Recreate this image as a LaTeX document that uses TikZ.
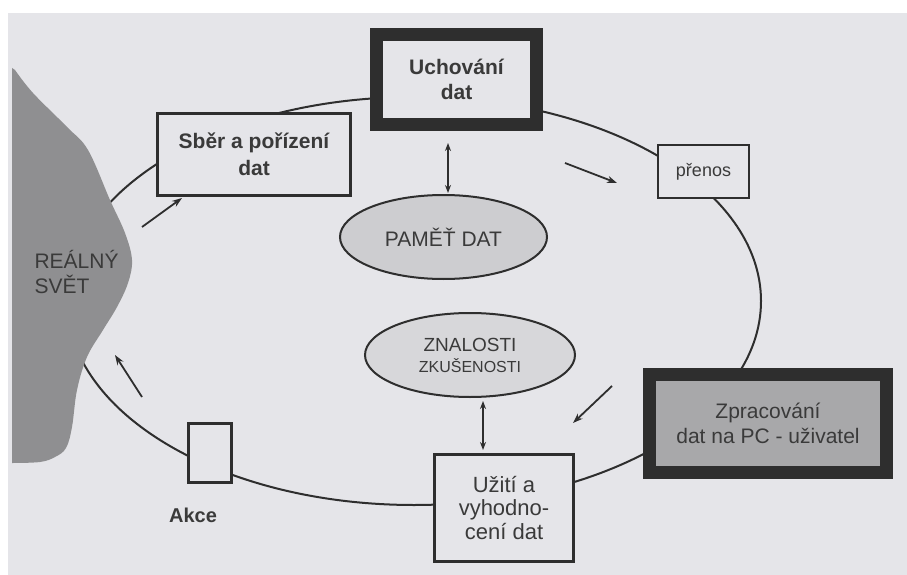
\documentclass[tikz,border=0pt]{standalone}
\usepackage{fontspec}
\setmainfont{Liberation Sans}
\usetikzlibrary{shapes.geometric,arrows.meta}

\definecolor{papir}{HTML}{E5E5E9}
\definecolor{linka}{HTML}{2E2E2E}
\definecolor{popis}{HTML}{3A3A3A}
\definecolor{svet}{HTML}{8F8F91}
\definecolor{sedaA}{HTML}{CDCDD0}
\definecolor{sedaB}{HTML}{D7D7DA}
\definecolor{tmava}{HTML}{A8A8AA}

\begin{document}
\begin{tikzpicture}[x=1pt, y=-1pt,
  box/.style={draw=linka, fill=papir, line width=3pt, inner sep=0pt, align=center, text=popis},
  tlusty/.style={box, line width=13pt},
  elip/.style={ellipse, draw=linka, line width=2pt, inner sep=0pt, align=center, text=popis},
  sip/.style={draw=linka, line width=1.8pt, -{Stealth[length=10pt,width=7pt]}},
  dvoj/.style={draw=linka, line width=1.5pt, {Stealth[length=8pt,width=6pt]}-{Stealth[length=8pt,width=6pt]}}]

  % 0. podklad (naskenovana stranka)
  \fill[white] (0,0) rectangle (907,575);
  \fill[papir] (8,13) rectangle (907,575);
  \useasboundingbox (0,0) rectangle (907,575);

  % 1. velky cyklus: stred (414,301), poloosy 347 a 204
  \draw[linka, line width=2pt] (414,301) ellipse [x radius=347pt, y radius=204pt];

  % 2. realny svet (sedy utvar vlevo)
  \fill[svet] (12,68) -- plot[smooth, tension=0.6] coordinates {(15,70) (33,93) (67,127) (88,150) (110,200) (125,233) (132,260) (128,283) (117,307) (103,330) (87,357) (77,390) (72,427) (66,448) (55,457) (40,462) (12,463)} -- cycle;
  \node[anchor=west, align=left, text=popis, font=\fontsize{21}{25}\selectfont] (svettxt) at (31,272) {REÁLNÝ\\SVĚT};

  % 3. bloky na cyklu
  \node[box, minimum width=193pt, minimum height=82pt, font=\bfseries\fontsize{21}{27}\selectfont] (sber) at (254,154.5) {Sběr a pořízení\\dat};
  \node[tlusty, minimum width=160pt, minimum height=90pt, font=\bfseries\fontsize{21}{25}\selectfont] (uch) at (456.5,79.5) {Uchování\\dat};
  \node[box, line width=2.5pt, minimum width=91pt, minimum height=53pt, font=\fontsize{18}{22}\selectfont] (prenos) at (703.5,171.5) {přenos};
  \node[tlusty, fill=tmava, minimum width=237pt, minimum height=98pt, font=\fontsize{21}{25}\selectfont] (zprac) at (768,423.5) {Zpracování\\dat na PC - uživatel};
  \node[box, minimum width=139pt, minimum height=107pt, font=\fontsize{22}{23.5}\selectfont] (uziti) at (504,508) {Užití a\\vyhodno-\\cení dat};
  \node[box, minimum width=43pt, minimum height=59pt] (akce) at (210,453) {};
  \node[text=popis, font=\bfseries\fontsize{20}{24}\selectfont] (akcetxt) at (193,515) {Akce};

  % 4. vnitrni elipsy
  \node[elip, fill=sedaA, minimum width=207pt, minimum height=84pt, font=\fontsize{21}{25}\selectfont] (pamet) at (443.5,237) {PAMĚŤ DAT};
  \node[elip, fill=sedaB, minimum width=210pt, minimum height=84pt, font=\fontsize{19}{21}\selectfont] (znal) at (470,355) {ZNALOSTI\\{\fontsize{16}{21}\selectfont ZKUŠENOSTI}};

  % 5. obousmerne sipky
  \draw[dvoj] ([xshift=-8.5pt, yshift=-12pt]uch.south) -- ([xshift=4.5pt, yshift=1pt]pamet.north);
  \draw[dvoj] ([xshift=13pt, yshift=-3pt]znal.south) -- ([xshift=-21pt, yshift=3pt]uziti.north);

  % 6. smer cyklu
  \coordinate (s1a) at (142,227); \coordinate (s1b) at (182,198);
  \coordinate (s2a) at (565,163); \coordinate (s2b) at (617,183);
  \coordinate (s3a) at (612,386); \coordinate (s3b) at (573,423);
  \coordinate (s4a) at (142,397); \coordinate (s4b) at (115,355);
  \draw[sip] (s1a) -- (s1b);
  \draw[sip] (s2a) -- (s2b);
  \draw[sip] (s3a) -- (s3b);
  \draw[sip] (s4a) -- (s4b);

\end{tikzpicture}
\end{document}
